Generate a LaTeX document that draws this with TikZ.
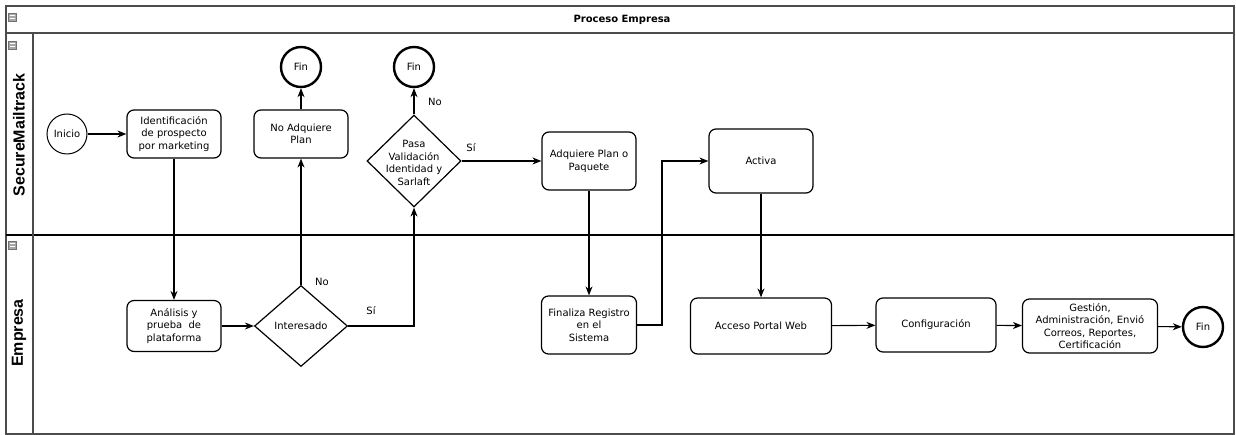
\documentclass[tikz,border=0pt]{standalone}
\usepackage{fontspec}
\setmainfont{DejaVu Sans}
\newfontfamily\lanefont{Liberation Sans}
\usetikzlibrary{shapes.geometric,arrows.meta}
\begin{document}
\begin{tikzpicture}[x=1pt,y=-1pt,
  box/.style={draw=black,line width=1.2pt,rounded corners=7pt,align=center,inner sep=0pt,font=\fontsize{10}{12.5}\selectfont},
  dia/.style={draw=black,diamond,line width=1.2pt,inner sep=0pt},
  txt/.style={align=center,inner sep=0pt,font=\fontsize{10}{12.7}\selectfont},
  fin/.style={draw=black,circle,line width=2.4pt,minimum size=40pt,inner sep=0pt,font=\fontsize{10}{12}\selectfont},
  arr/.style={-{Stealth[length=9pt,width=7pt]},line width=1.1pt},
  lbl/.style={font=\fontsize{10}{12}\selectfont,inner sep=0pt},
  lanetxt/.style={font=\lanefont\bfseries\fontsize{16}{18}\selectfont,rotate=90,inner sep=0pt},
  frame/.style={draw=black!70,line width=1.4pt},
  icon/.style={fill=black!35,draw=black!55,line width=0.5pt},
]
\useasboundingbox (0,0) rectangle (1236,435);
% frame
\draw[frame] (6,6) rectangle (1234,434);
\draw[frame] (6,33) -- (1234,33);
\draw[frame,draw=black] (6,235) -- (1234,235);
\draw[frame] (33,33) -- (33,434);
% collapse icons
\foreach \yy in {17,45,245}{
  \draw[icon] (8,\yy-4) rectangle (16,\yy+4);
  \draw[white,line width=0.8pt] (9.5,\yy-1.5) -- (14.5,\yy-1.5) (9.5,\yy+1.5) -- (14.5,\yy+1.5);
}
\node[font=\bfseries\fontsize{10}{12}\selectfont] (title) at (622,20) {Proceso Empresa};
\node[lanetxt] (lane1) at (19,135) {SecureMailtrack};
\node[lanetxt] (lane2) at (19,333) {Empresa};

% nodes lane 1
\node[draw=black,circle,line width=1pt,minimum size=40pt,inner sep=0pt,font=\fontsize{10}{12}\selectfont] (ini) at (67,134) {Inicio};
\node[box,minimum width=94pt,minimum height=48pt] (ident) at (174,134) {Identificación\\de prospecto\\por marketing};
\node[box,minimum width=94pt,minimum height=48pt] (noadq) at (301,134) {No Adquiere\\Plan};
\node[fin] (fin1) at (301,67) {Fin};
\node[fin] (fin2) at (414,67) {Fin};
\node[dia,minimum width=94pt,minimum height=92pt] (pv) at (414,161) {};
\node[txt] (pvt) at (414,163) {Pasa\\Validación\\Identidad y\\Sarlaft};
\node[box,minimum width=94pt,minimum height=58pt] (adq) at (589,161) {Adquiere Plan o\\Paquete};
\node[box,minimum width=104pt,minimum height=64pt] (activa) at (761,161) {Activa};

% nodes lane 2
\node[box,minimum width=94pt,minimum height=51pt] (anal) at (174,326) {Análisis y\\prueba\ \ de\\plataforma};
\node[dia,minimum width=93pt,minimum height=81pt] (int) at (301,326) {};
\node[txt] (intt) at (301,326) {Interesado};
\node[box,minimum width=95pt,minimum height=58pt] (freg) at (589,325) {Finaliza Registro\\en el\\Sistema};
\node[box,minimum width=141pt,minimum height=56pt] (acc) at (761,326) {Acceso Portal Web};
\node[box,minimum width=120pt,minimum height=54pt] (conf) at (936,325) {Configuración};
\node[box,minimum width=135pt,minimum height=54pt] (gest) at (1090,326) {Gestión,\\Administración, Envió\\Correos, Reportes,\\Certificación};
\node[fin] (fin3) at (1203,327) {Fin};

% connectors
\coordinate (c1) at (662,325);
\draw[arr] (ini) -- (ident);
\draw[arr] (ident) -- (anal);
\draw[arr] (anal) -- (int);
\draw[arr] (int.north) -- (noadq);
\draw[arr] (noadq) -- (fin1);
\draw[arr] (int.east) -| (pv.south);
\draw[arr] (pv.north) -- (fin2);
\draw[arr] (pv.east) -- (adq);
\draw[arr] (adq) -- (freg);
\draw[arr] (freg.east) -- (c1) |- (activa.west);
\draw[arr] (activa) -- (acc);
\draw[arr] (acc) -- (conf);
\draw[arr] (conf) -- (gest);
\draw[arr] (gest) -- (fin3);

% labels
\node[lbl] (l1) at (322,282) {No};
\node[lbl] (l2) at (371,311) {Sí};
\node[lbl] (l3) at (435,102) {No};
\node[lbl] (l4) at (471,148) {Sí};
\end{tikzpicture}
\end{document}
